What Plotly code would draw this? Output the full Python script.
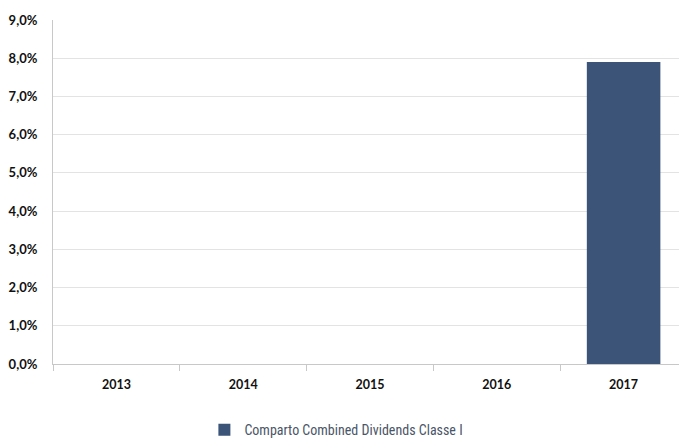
import plotly.graph_objects as go

years = ["2013", "2014", "2015", "2016", "2017"]
values = [None, None, None, None, 7.9]
series_name = "Comparto Combined Dividends Classe I"
y_ticks = [0, 1, 2, 3, 4, 5, 6, 7, 8, 9]
y_labels = [f"{v:.1f}".replace(".", ",") + "%" for v in y_ticks]

fig = go.Figure()
fig.add_trace(go.Bar(
    x=years, y=values, name=series_name,
    marker=dict(color="#3b5478", line=dict(width=0)),
    width=0.58, showlegend=True,
))

fig.update_layout(
    width=679, height=431,
    margin=dict(l=45, r=0, t=12, b=75, autoexpand=False),
    paper_bgcolor="white", plot_bgcolor="white",
    separators=",.",
    font=dict(family="Lato, Open Sans, sans-serif", color="#111111"),
    xaxis=dict(
        type="category",
        tickson="boundaries",
        ticks="outside", ticklen=6, tickcolor="#c8c8c8", tickwidth=1,
        showline=True, linecolor="#c8c8c8", linewidth=1,
        showgrid=False,
        ticklabelstandoff=9,
        tickfont=dict(size=12.5, family="Lato", weight="bold", color="#111111"),
    ),
    yaxis=dict(
        range=[0, 9], tickvals=y_ticks, ticktext=y_labels,
        showline=True, linecolor="#c8c8c8", linewidth=1,
        showgrid=True, gridcolor="#e3e3e3", gridwidth=1,
        zeroline=False,
        ticks="", ticklabelstandoff=12,
        tickfont=dict(size=13, family="Lato", weight="bold", color="#111111"),
    ),
    legend=dict(
        orientation="h", x=0.447, xanchor="center", y=-0.192, yanchor="middle",
        font=dict(size=14, family="Roboto Condensed, Liberation Sans Narrow, Roboto, sans-serif", color="#4a5568"),
        itemwidth=30,
    ),
)

fig.write_html("out.html")
